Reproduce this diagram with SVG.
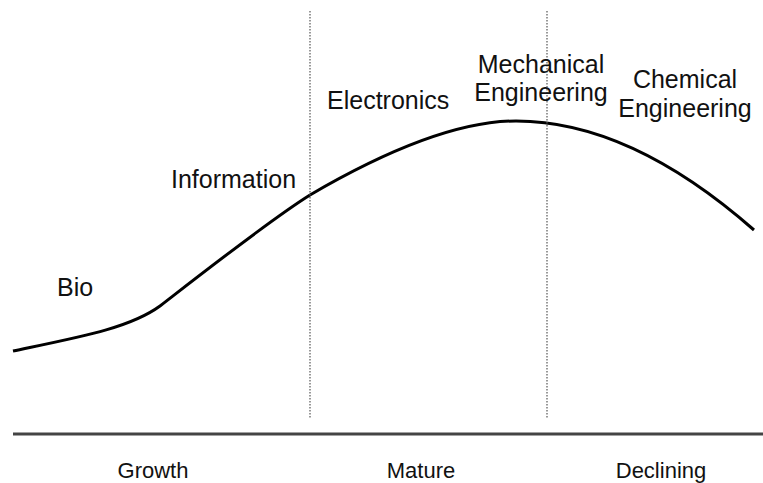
<svg xmlns="http://www.w3.org/2000/svg" width="763" height="483" viewBox="0 0 763 483">
<style>
text{font-family:"Liberation Sans",Arial,sans-serif;font-size:25px;fill:#111}
.c{text-anchor:middle}
.s{font-size:22px}
.dot{stroke:#555;stroke-width:1.2;stroke-dasharray:1.5 1.5;fill:none}
</style>
<rect width="763" height="483" fill="#fff"/>
<g id="connectors">
<path id="curve" d="M13,351 C80,337 130,328 160,306 C200,275 270,220 310,195 C370,160 450,121 516,121 C600,121 680,165 754,230" fill="none" stroke="#000" stroke-width="3"/>
<line class="dot" x1="310" y1="11" x2="310" y2="418"/>
<line class="dot" x1="547" y1="11" x2="547" y2="418"/>
<line x1="13" y1="434" x2="763" y2="434" stroke="#444" stroke-width="3"/>
</g>
<g id="bio"><text x="57" y="296">Bio</text></g>
<g id="information"><text x="171" y="188">Information</text></g>
<g id="electronics"><text x="327" y="109">Electronics</text></g>
<g id="mechanical"><text class="c" x="541" y="73">Mechanical</text><text class="c" x="541" y="101">Engineering</text></g>
<g id="chemical"><text class="c" x="685" y="88">Chemical</text><text class="c" x="685" y="117">Engineering</text></g>
<g id="growth"><text class="c s" x="153" y="478">Growth</text></g>
<g id="mature"><text class="c s" x="421" y="478">Mature</text></g>
<g id="declining"><text class="c s" x="661" y="478">Declining</text></g>
</svg>
